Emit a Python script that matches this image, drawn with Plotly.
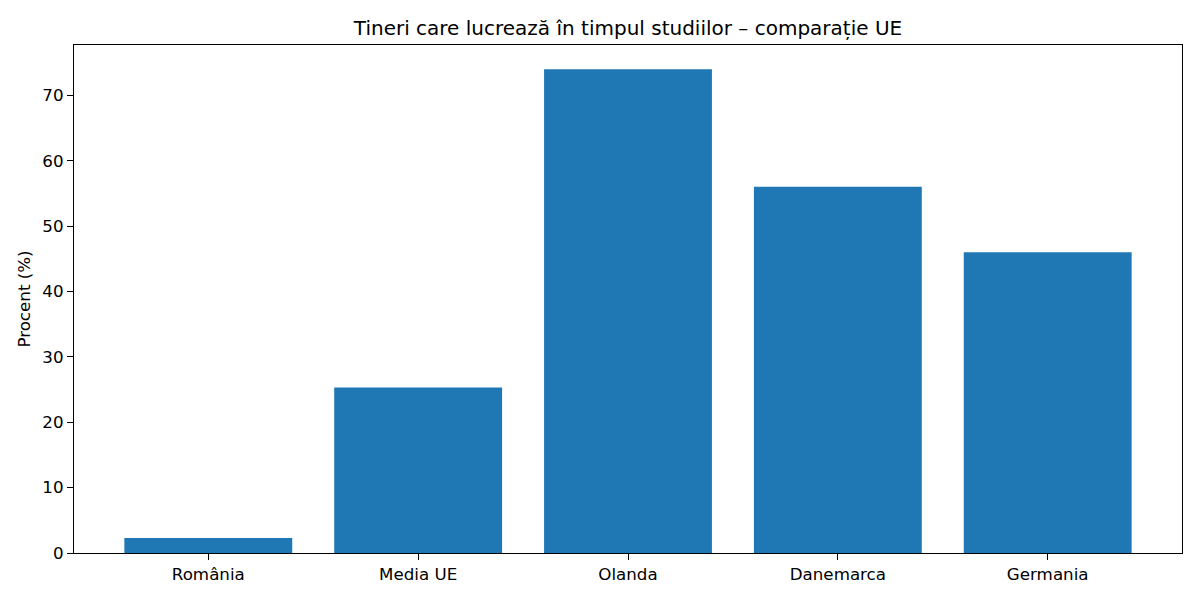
import plotly.graph_objects as go

categories = ["România", "Media UE", "Olanda", "Danemarca", "Germania"]
values = [2.3, 25.3, 74.0, 56.0, 46.0]
y_ticks = [0, 10, 20, 30, 40, 50, 60, 70]

fig = go.Figure(go.Bar(x=list(range(len(categories))), y=values, width=0.8,
                       marker=dict(color="#1f77b4", line=dict(width=0))))

font = dict(family="DejaVu Sans", size=16.7, color="black")
fig.update_layout(
    width=1200, height=600,
    margin=dict(l=66, r=26, t=37, b=55),
    plot_bgcolor="white", paper_bgcolor="white",
    font=font,
    title=dict(text="Tineri care lucrează în timpul studiilor – comparație UE",
               x=0.5, xref="paper", xanchor="center", y=0.967, yanchor="middle",
               font=dict(family="DejaVu Sans", size=20, color="black")),
    showlegend=False,
)
fig.update_xaxes(range=[-0.64, 4.64], tickmode="array",
                 tickvals=list(range(len(categories))), ticktext=categories,
                 showline=True, linecolor="black", linewidth=1.3, mirror=True,
                 ticks="outside", ticklen=6, tickcolor="black", showgrid=False,
                 zeroline=False)
fig.update_yaxes(range=[0, 77.7], tickmode="array", tickvals=y_ticks,
                 showline=True, linecolor="black", linewidth=1.3, mirror=True,
                 ticks="outside", ticklen=6, tickcolor="black", showgrid=False,
                 zeroline=False,
                 title=dict(text="Procent (%)", standoff=7,
                            font=dict(family="DejaVu Sans", size=16.7)))
fig.write_html("out.html")
